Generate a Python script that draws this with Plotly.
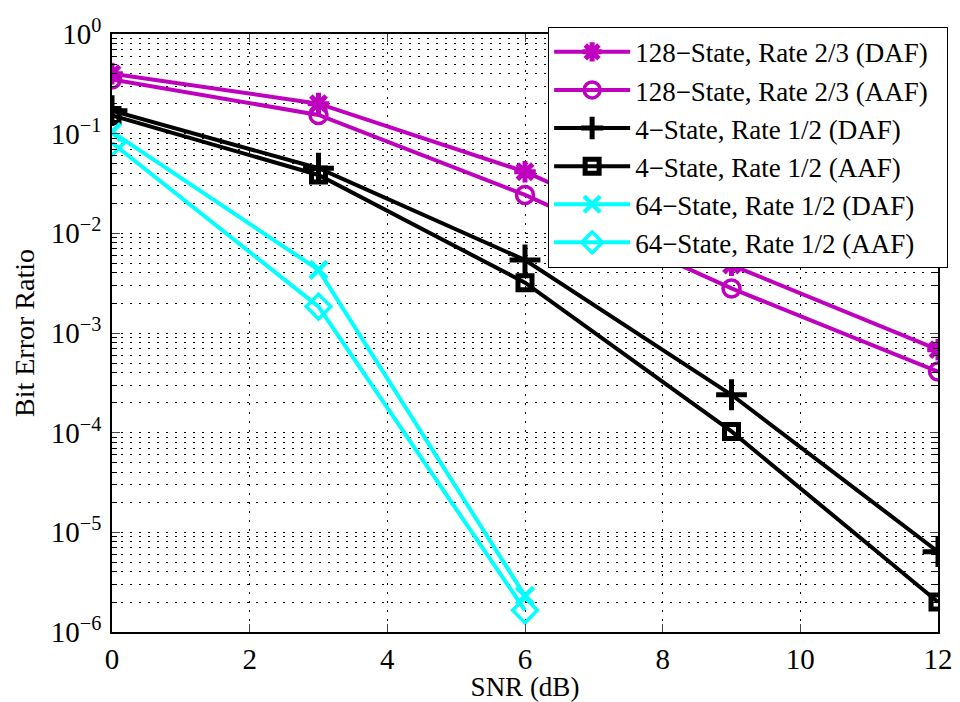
import plotly.graph_objects as go

snr_full = [0, 3, 6, 9, 12]
snr_short = [0, 3, 6]

ber_128_daf = [0.40, 0.20, 0.0415, 0.0048, 6.8e-4]
ber_128_aaf = [0.35, 0.154, 0.0243, 0.0028, 4.1e-4]
ber_4_daf = [0.17, 0.045, 0.0054, 2.4e-4, 6.4e-6]
ber_4_aaf = [0.152, 0.0385, 0.0032, 1.03e-4, 2.0e-6]
ber_64_daf = [0.104, 0.0043, 2.3e-6]
ber_64_aaf = [0.081, 0.00184, 1.65e-6]

names = [
    "128\u2212State, Rate 2/3 (DAF)",
    "128\u2212State, Rate 2/3 (AAF)",
    "4\u2212State, Rate 1/2 (DAF)",
    "4\u2212State, Rate 1/2 (AAF)",
    "64\u2212State, Rate 1/2 (DAF)",
    "64\u2212State, Rate 1/2 (AAF)",
]

y_tick_vals = [1e0, 1e-1, 1e-2, 1e-3, 1e-4, 1e-5, 1e-6]
y_tick_text = ["10<sup>0</sup>", "10<sup>\u22121</sup>", "10<sup>\u22122</sup>",
               "10<sup>\u22123</sup>", "10<sup>\u22124</sup>", "10<sup>\u22125</sup>",
               "10<sup>\u22126</sup>"]
x_tick_vals = [0, 2, 4, 6, 8, 10, 12]

minor_y = [m * 10.0 ** e for e in range(-6, 0) for m in range(2, 10)]

MAG = "#BF00BF"
CYA = "#00FFFF"
BLK = "#000000"

series = [
    (snr_full, ber_128_daf, MAG, "asterisk-open", 18, 5),
    (snr_full, ber_128_aaf, MAG, "circle-open", 17, 3.5),
    (snr_full, ber_4_daf, BLK, "cross-thin-open", 22, 5),
    (snr_full, ber_4_aaf, BLK, "square-open", 14, 5),
    (snr_short, ber_64_daf, CYA, "x-thin-open", 17, 4.5),
    (snr_short, ber_64_aaf, CYA, "diamond-open", 19, 3.5),
]

fig = go.Figure()
for (xs, ys, col, sym, size, mlw), name in zip(series, names):
    fig.add_trace(go.Scatter(
        x=xs, y=ys, name=name + "\u00a0\u00a0", mode="lines+markers",
        line=dict(color=col, width=4),
        marker=dict(symbol=sym, size=size, color=col, line=dict(color=col, width=mlw)),
    ))

grid_dash = "2px,7px"
# page body has an 8px margin, so the figure is shrunk by 8px and margins shifted
fig.update_layout(
    width=952, height=694,
    margin=dict(l=104, r=17, t=26, b=70),
    paper_bgcolor="white", plot_bgcolor="white",
    font=dict(family="Liberation Serif, Times New Roman, serif", size=26, color="black"),
    showlegend=True,
    legend=dict(
        x=0.528, y=1.012, xanchor="left", yanchor="top",
        bgcolor="white", bordercolor="black", borderwidth=1,
        font=dict(size=27, family="Liberation Serif, serif"),
        itemwidth=76, tracegroupgap=0,
    ),
    xaxis=dict(
        range=[0, 12], tickvals=x_tick_vals, ticks="inside", ticklen=8,
        showline=True, linecolor="black", linewidth=1.5, mirror="ticks",
        showgrid=True, gridcolor="black", gridwidth=1, griddash=grid_dash,
        zeroline=False, automargin=False,
        title=dict(text="SNR (dB)", standoff=6, font=dict(size=27)),
        tickfont=dict(size=29),
    ),
    yaxis=dict(
        type="log", range=[-6, 0], tickvals=y_tick_vals, ticktext=y_tick_text,
        ticks="inside", ticklen=8, ticklabelstandoff=3,
        showline=True, linecolor="black", linewidth=1.5, mirror="ticks",
        showgrid=True, gridcolor="black", gridwidth=1, griddash=grid_dash,
        zeroline=False, automargin=False,
        title=dict(text="Bit Error Ratio", standoff=8, font=dict(size=28)),
        tickfont=dict(size=29),
        minor=dict(tickvals=minor_y, ticks="inside", ticklen=5, tickcolor="black",
                   showgrid=True, gridcolor="black", gridwidth=1, griddash=grid_dash),
    ),
)

fig.write_html("out.html")
